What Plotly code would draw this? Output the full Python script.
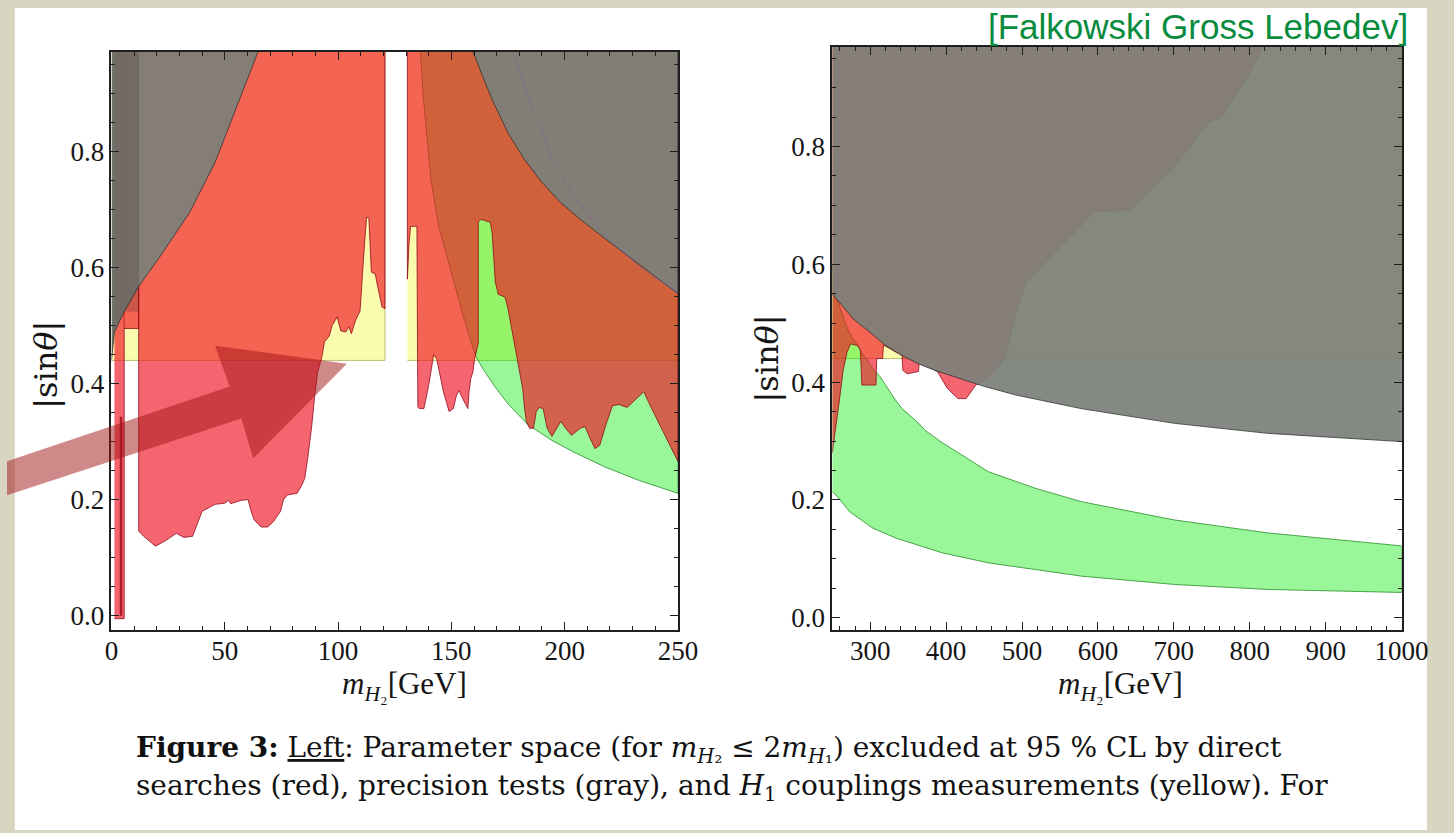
import plotly.graph_objects as go

W, H = 1454, 833

# ---------------- LEFT PANEL DATA  (m_H2 [GeV], |sin theta|) ----------------
L_XMIN, L_XMAX, TOP, BAND = 0, 250, 1.0, 0.44

GRAY_L_X = [0, 0.5, 1.3, 5.6, 12.1, 21.6, 34.5, 45.7, 54.3, 64.7, 67.0]
GRAY_L_Y = [0.44, 0.465, 0.489, 0.524, 0.568, 0.62, 0.695, 0.781, 0.867, 0.972, 1.0]
GRAY_STRIP_XMAX = 12

GRAY_R_X = [157.8, 159.5, 168, 175, 182.3, 189.5, 198.2, 206.9, 218.1, 229.7, 239.7, 250]
GRAY_R_Y = [1.0, 0.972, 0.889, 0.832, 0.786, 0.749, 0.712, 0.683, 0.649, 0.615, 0.585, 0.555]

FAINT_X = [177, 185, 194, 204, 218, 232.6, 247, 250]
FAINT_Y = [0.97, 0.884, 0.79, 0.723, 0.654, 0.603, 0.563, 0.556]

RED_A_X = [1.3, 5.6]
RED_A_Y = [-0.005, 1.0]
RED_B_X = [5.6, 12]
RED_B_Y = [0.495, 1.0]
RED_LINE_X = [4.2, 4.2]
RED_LINE_Y = [0.0, 0.343]

RED_C_X = [12, 14.2, 19.4, 24.1, 28.6, 32, 35.8, 40, 45.7, 50, 51.6, 52.6, 57.3, 60.3, 61.6, 63, 66,
           68.9, 71.6, 74.6, 75.9, 77.6, 81.9, 84, 85.3, 86.6, 88.4, 89.7, 91, 92.7, 94, 96.1, 97.4,
           99.6, 101.2, 103.4, 104.7, 105.9, 107.6, 109.7, 110.3, 111.6, 112.6, 113.6, 114.7, 116.4,
           117.7, 119.4, 120.7]
RED_C_Y = [0.146, 0.137, 0.12, 0.13, 0.142, 0.135, 0.137, 0.18, 0.192, 0.194, 0.199, 0.193, 0.199,
           0.2, 0.18, 0.165, 0.153, 0.153, 0.163, 0.18, 0.2, 0.208, 0.211, 0.225, 0.237, 0.271, 0.328,
           0.38, 0.42, 0.443, 0.472, 0.482, 0.5, 0.515, 0.491, 0.489, 0.498, 0.486, 0.508, 0.525,
           0.563, 0.637, 0.687, 0.685, 0.592, 0.589, 0.563, 0.532, 0.529]

RED_D_X = [130.6, 131.3, 132, 134.8, 135.2, 135.8, 137.9, 140, 142.2, 143.5, 146.5, 149, 150.9, 152.2,
           153.4, 155, 157.3, 157.8, 158.6, 159.5, 160.3, 161.9, 161.9, 163, 167.2, 168, 169.4, 170.7,
           173.7, 175, 177.2, 179.3, 181.5, 182.3, 183.1, 184.5, 186.2, 187.5, 188.8, 190.5, 192.3,
           194.4, 196.6, 198.3, 200.4, 203, 206.9, 209, 211.2, 213.4, 215.5, 218.1, 221.1, 224, 227.6,
           231, 234.9, 238.4, 242.7, 246.9, 250]
RED_D_Y = [0.58, 0.64, 0.671, 0.671, 0.36, 0.357, 0.357, 0.397, 0.45, 0.443, 0.386, 0.352, 0.357, 0.379,
           0.388, 0.374, 0.357, 0.386, 0.409, 0.42, 0.443, 0.47, 0.678, 0.683, 0.678, 0.66, 0.575, 0.554,
           0.549, 0.529, 0.483, 0.437, 0.391, 0.357, 0.335, 0.323, 0.323, 0.352, 0.359, 0.357, 0.323,
           0.309, 0.323, 0.335, 0.323, 0.311, 0.323, 0.326, 0.306, 0.288, 0.294, 0.328, 0.362, 0.364,
           0.359, 0.371, 0.386, 0.357, 0.323, 0.288, 0.266]

YEL_L_X = [[0, 120.7], [130.6, 250]]

GREEN_L_X = [136.2, 136.3, 137.5, 139.3, 141, 144.5, 148, 151, 155, 158, 160.8, 164, 169, 175, 183.6,
             194, 204, 218, 233, 250]
GREEN_L_Y = [1.0, 0.975, 0.9, 0.82, 0.75, 0.67, 0.62, 0.575, 0.52, 0.48, 0.447, 0.425, 0.396, 0.365,
             0.33, 0.303, 0.282, 0.256, 0.233, 0.211]

# ---------------- RIGHT PANEL DATA ----------------
R_XMIN, R_XMAX = 250, 1000

GREEN_UP_X = [250, 256.5, 263.4, 270.3, 278.1, 284, 288, 294.8, 302.7, 312.5, 333, 342, 364, 372.4,
              394, 455.6, 517, 578.3, 701, 823.8, 1000]
GREEN_UP_Y = [0.60, 0.54, 0.515, 0.49, 0.472, 0.462, 0.452, 0.44, 0.425, 0.41, 0.37, 0.355, 0.33, 0.318,
              0.298, 0.248, 0.22, 0.197, 0.166, 0.144, 0.122]
GREEN_LO_X = [250, 254.6, 273, 303.6, 334.3, 395.5, 456.7, 579.3, 701.8, 824.3, 1000]
GREEN_LO_Y = [0.214, 0.209, 0.18, 0.152, 0.135, 0.11, 0.093, 0.0705, 0.0564, 0.048, 0.043]

GRAY2_X = [250, 277.9, 299.3, 320.4, 342, 363.6, 385.1, 406.5, 449.4, 492.1, 578, 701, 823.8, 1000]
GRAY2_Y = [0.55, 0.507, 0.485, 0.462, 0.445, 0.431, 0.42, 0.411, 0.393, 0.378, 0.355, 0.33, 0.313, 0.299]

RED2_X = [250, 828, 815, 800, 763, 745.4, 698.3, 642.3, 595.2, 560.9, 526.5, 504.9, 492.1, 483.8, 476.4,
          464.7, 452.9, 439.1, 426.4, 415.6, 401.8, 388.5, 376.3, 364.5, 363.5, 348.9, 343, 342, 317.4,
          316.4, 308.6, 307.6, 289, 287, 283.1, 274.2, 269.3, 264.4, 258.5, 252.6, 250]
RED2_Y = [1.0, 1.0, 0.964, 0.925, 0.851, 0.84, 0.761, 0.693, 0.689, 0.643, 0.598, 0.569, 0.519, 0.474,
          0.44, 0.42, 0.405, 0.395, 0.372, 0.372, 0.389, 0.418, 0.426, 0.432, 0.418, 0.414, 0.42, 0.445,
          0.463, 0.44, 0.44, 0.395, 0.395, 0.455, 0.462, 0.465, 0.45, 0.42, 0.36, 0.30, 0.28]

# ---------------- TEXT ----------------
CREDIT = "[Falkowski Gross Lebedev]"
YTITLE = "|sin<i>θ</i>|"
XTITLE = "<i>m</i><sub><i>H</i>₂</sub>[GeV]"
CAPTION_1 = ("<b>Figure 3:</b> <span style='text-decoration:underline'>Left</span>: Parameter space "
             "(for <i>m</i><sub><i>H</i>₂</sub> ≤ 2<i>m</i><sub><i>H</i>₁</sub>) excluded at 95 % CL by direct")
CAPTION_2 = ("searches (red), precision tests (gray), and <i>H</i><sub>1</sub> couplings measurements "
             "(yellow). For")

# ---------------- STYLE ----------------
C_GREEN, L_GREEN = "rgba(0,235,0,0.40)", "rgba(40,140,40,0.8)"
C_YEL, L_YEL = "rgba(245,245,60,0.42)", "rgba(160,160,70,0.7)"
C_RED, L_RED = "rgba(240,21,36,0.66)", "rgba(140,0,20,0.75)"
C_GRAY, L_GRAY = "rgba(124,128,122,0.93)", "rgba(50,50,50,0.8)"
SERIF = "Liberation Serif"
CAP_FONT = "DejaVu Serif"


def poly(xs, ys, fill, line, xa, ya, width=1.0):
    return go.Scatter(x=xs, y=ys, fill="toself", fillcolor=fill, mode="lines",
                      line=dict(color=line, width=width), xaxis=xa, yaxis=ya,
                      hoverinfo="skip", showlegend=False)


def rect(x0, x1, y0, y1):
    return [x0, x1, x1, x0], [y0, y0, y1, y1]


traces = []
# ---- left panel
for x0, x1 in YEL_L_X:
    xs, ys = rect(x0, x1, BAND, TOP)
    traces.append(poly(xs, ys, C_YEL, L_YEL, "x", "y"))
traces.append(poly(GREEN_L_X + [L_XMAX], GREEN_L_Y + [TOP], C_GREEN, L_GREEN, "x", "y"))
xs, ys = rect(RED_A_X[0], RED_A_X[1], RED_A_Y[0], RED_A_Y[1])
traces.append(poly(xs, ys, C_RED, L_RED, "x", "y"))
xs, ys = rect(RED_B_X[0], RED_B_X[1], RED_B_Y[0], RED_B_Y[1])
traces.append(poly(xs, ys, C_RED, L_RED, "x", "y"))
traces.append(poly([RED_C_X[0]] + RED_C_X + [RED_C_X[-1]], [TOP] + RED_C_Y + [TOP],
                   C_RED, L_RED, "x", "y"))
traces.append(poly([RED_D_X[0]] + RED_D_X + [RED_D_X[-1]], [TOP] + RED_D_Y + [TOP],
                   C_RED, L_RED, "x", "y"))
traces.append(go.Scatter(x=RED_LINE_X, y=RED_LINE_Y, mode="lines",
                         line=dict(color="rgba(150,0,20,0.75)", width=2.5),
                         xaxis="x", yaxis="y", hoverinfo="skip", showlegend=False))
traces.append(poly(GRAY_L_X + [L_XMIN], GRAY_L_Y + [TOP], C_GRAY, L_GRAY, "x", "y"))
sx = [x for x in GRAY_L_X if x <= GRAY_STRIP_XMAX]
sy = GRAY_L_Y[:len(sx)]
traces.append(poly(sx + [GRAY_STRIP_XMAX, GRAY_STRIP_XMAX, L_XMIN], sy + [sy[-1], TOP, TOP],
                   "rgba(30,20,20,0.18)", "rgba(0,0,0,0)", "x", "y"))
traces.append(poly(GRAY_R_X + [L_XMAX], GRAY_R_Y + [TOP], C_GRAY, L_GRAY, "x", "y"))
traces.append(go.Scatter(x=FAINT_X, y=FAINT_Y, mode="lines",
                         line=dict(color="rgba(120,100,150,0.35)", width=1.5),
                         xaxis="x", yaxis="y", hoverinfo="skip", showlegend=False))

# ---- right panel
xs, ys = rect(R_XMIN, R_XMAX, BAND, TOP)
traces.append(poly(xs, ys, C_YEL, L_YEL, "x2", "y2"))
traces.append(poly(GREEN_UP_X + GREEN_LO_X[::-1], GREEN_UP_Y + GREEN_LO_Y[::-1],
                   C_GREEN, L_GREEN, "x2", "y2"))
traces.append(poly(RED2_X, RED2_Y, C_RED, L_RED, "x2", "y2"))
traces.append(poly(GRAY2_X + [R_XMAX, R_XMIN], GRAY2_Y + [TOP, TOP], C_GRAY, L_GRAY, "x2", "y2"))

fig = go.Figure(traces)


def px(x):
    return x / W


def py(y):
    return 1 - y / H


axis_common = dict(
    showline=True, linecolor="#1e1e1e", linewidth=1.6, mirror="ticks",
    ticks="inside", ticklen=8, tickwidth=1.3, tickcolor="#1e1e1e",
    showgrid=False, zeroline=False,
    tickfont=dict(family=SERIF, size=27, color="#151515"),
)

fig.update_layout(
    width=W, height=H, margin=dict(l=0, r=0, t=0, b=0),
    paper_bgcolor="#d8d6c1", plot_bgcolor="white",
    showlegend=False,
    xaxis=dict(axis_common, domain=[px(107), px(687)], range=[L_XMIN, L_XMAX], dtick=50, tick0=0,
               anchor="y", ticklabelstandoff=-4,
               minor=dict(dtick=10, ticks="inside", ticklen=4, tickcolor="#1e1e1e")),
    yaxis=dict(axis_common, domain=[py(632), py(52)], range=[-0.024, 0.9717], dtick=0.2, tick0=0,
               tickformat=".1f", anchor="x",
               minor=dict(dtick=0.05, ticks="inside", ticklen=4, tickcolor="#1e1e1e")),
    xaxis2=dict(axis_common, domain=[px(845), px(1428)], range=[R_XMIN, R_XMAX], dtick=100, tick0=0,
                anchor="y2", ticklabelstandoff=-4,
                minor=dict(dtick=20, ticks="inside", ticklen=4, tickcolor="#1e1e1e")),
    yaxis2=dict(axis_common, domain=[py(632), py(47)], range=[-0.0203, 0.9691], dtick=0.2, tick0=0,
                tickformat=".1f", anchor="x2",
                minor=dict(dtick=0.05, ticks="inside", ticklen=4, tickcolor="#1e1e1e")),
)

# page and arrow decorations
ARROW_PX = [(0, 463), (228, 388), (213, 347), (348, 365), (252, 460), (240, 420), (0, 497)]
path = "M " + " L ".join(f"{px(a):.5f},{py(b):.5f}" for a, b in ARROW_PX) + " Z"
fig.update_layout(shapes=[
    dict(type="rect", xref="paper", yref="paper", x0=px(8), x1=1, y0=0, y1=py(8),
         fillcolor="white", line=dict(width=0), layer="below"),
    dict(type="path", xref="paper", yref="paper", path=path,
         fillcolor="rgba(160,20,20,0.5)", line=dict(width=0), layer="above"),
])

ann = [
    dict(text=CREDIT, x=px(1437), y=py(27), xanchor="right", yanchor="middle",
         font=dict(family="Liberation Sans", size=35, color="#078b3d")),
    dict(text=YTITLE, x=px(40), y=py(366), textangle=-90, xanchor="center", yanchor="middle",
         font=dict(family=CAP_FONT, size=32, color="#151515")),
    dict(text=YTITLE, x=px(778), y=py(360), textangle=-90, xanchor="center", yanchor="middle",
         font=dict(family=CAP_FONT, size=32, color="#151515")),
    dict(text=XTITLE, x=px(407), y=py(688), xanchor="center", yanchor="middle",
         font=dict(family=SERIF, size=31, color="#151515")),
    dict(text=XTITLE, x=px(1140), y=py(688), xanchor="center", yanchor="middle",
         font=dict(family=SERIF, size=31, color="#151515")),
    dict(text=CAPTION_1, x=px(130), y=py(752), xanchor="left", yanchor="middle",
         font=dict(family=CAP_FONT, size=28, color="#111111")),
    dict(text=CAPTION_2, x=px(130), y=py(790), xanchor="left", yanchor="middle",
         font=dict(family=CAP_FONT, size=28, color="#111111")),
]
for a in ann:
    a.update(xref="paper", yref="paper", showarrow=False)
fig.update_layout(annotations=ann)

fig.write_html("out.html")
